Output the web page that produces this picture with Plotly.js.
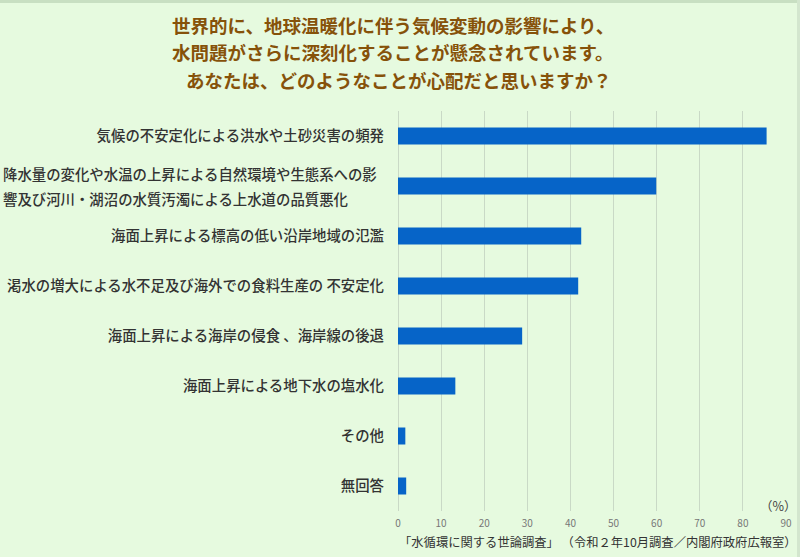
<!DOCTYPE html>
<html>
<head>
<meta charset="utf-8">
<script src="https://cdn.plot.ly/plotly-3.0.1.min.js"></script>
<style>
html,body{margin:0;padding:0;background:#E6FADF;}
#chart{width:800px;height:557px;}
</style>
</head>
<body>
<div id="chart"></div>
<script>
// ---- data ----
const categories = [
  "気候の不安定化による洪水や土砂災害の頻発",
  "降水量の変化や水温の上昇による自然環境や生態系への影響及び河川・湖沼の水質汚濁による上水道の品質悪化",
  "海面上昇による標高の低い沿岸地域の氾濫",
  "渇水の増大による水不足及び海外での食料生産の 不安定化",
  "海面上昇による海岸の侵食 、海岸線の後退",
  "海面上昇による地下水の塩水化",
  "その他",
  "無回答"
];
const values = [85.5, 59.9, 42.5, 41.8, 28.8, 13.3, 1.7, 1.9];
const tickLabels = [
  "気候の不安定化による洪水や土砂災害の頻発",
  "",
  "海面上昇による標高の低い沿岸地域の氾濫",
  "渇水の増大による水不足及び海外での食料生産の 不安定化",
  "海面上昇による海岸の侵食 、海岸線の後退",
  "海面上昇による地下水の塩水化",
  "その他",
  "無回答"
];
const wrappedLabel = ["降水量の変化や水温の上昇による自然環境や生態系への影", "響及び河川・湖沼の水質汚濁による上水道の品質悪化"];
const titleLines = [
  "世界的に、地球温暖化に伴う気候変動の影響により、",
  "水問題がさらに深刻化することが懸念されています。",
  "あなたは、どのようなことが心配だと思いますか？"
];
const xTicks = [0,10,20,30,40,50,60,70,80,90];
const unitLabel = "（%）";
const sourceNote = "「水循環に関する世論調査」 （令和２年10月調査／内閣府政府広報室）";

// ---- layout helpers ----
const L = 398, R = 14, T = 111, B = 46, W = 800, H = 557;
const pw = W - L - R, ph = H - T - B;
const px = x => (x - L) / pw;
const py = y => (H - B - y) / ph;

const jp = '"Noto Sans CJK JP", "Noto Sans", sans-serif';
const titleTop = [25, 52, 80];
const titleCx = [393, 393, 399];
const labelFont = {family: jp, size: 14.4, color: '#333333', weight: 500};

const annotations = [];
titleLines.forEach((t, i) => {
  annotations.push({
    text: t, xref: 'paper', yref: 'paper', x: px(titleCx[i]), y: py(titleTop[i]),
    xanchor: 'center', yanchor: 'middle', showarrow: false,
    font: {family: jp, size: 18.5, color: '#86520A', weight: 'bold'}
  });
});
wrappedLabel.forEach((t, i) => {
  annotations.push({
    text: t, xref: 'paper', yref: 'y', x: px(1), y: categories[1],
    xanchor: 'left', yanchor: 'middle', yshift: i === 0 ? 12.5 : -12.5,
    showarrow: false, font: labelFont
  });
});
annotations.push({
  text: unitLabel, xref: 'paper', yref: 'paper', x: px(799), y: py(505),
  xanchor: 'right', yanchor: 'middle', showarrow: false,
  font: {family: jp, size: 12.5, color: '#444444'}
});
annotations.push({
  text: sourceNote, xref: 'paper', yref: 'paper', x: px(799), y: py(542),
  xanchor: 'right', yanchor: 'middle', showarrow: false,
  font: {family: jp, size: 12.3, color: '#333333'}
});

const trace = {
  type: 'bar', orientation: 'h',
  x: values, y: categories,
  marker: {color: '#0664C8', line: {width: 0}},
  width: 0.34,
  hoverinfo: 'x+y'
};

const layout = {
  width: W, height: H,
  margin: {l: L, r: R, t: T, b: B, pad: 0},
  paper_bgcolor: '#E6FADF', plot_bgcolor: '#E6FADF',
  showlegend: false,
  xaxis: {
    range: [0, 90], tickvals: xTicks, ticktext: xTicks.map(String),
    showgrid: true, gridcolor: '#C9D9C6', gridwidth: 1,
    zeroline: true, zerolinecolor: '#C9D9C6', zerolinewidth: 1,
    showline: false, ticks: '', fixedrange: true,
    ticklabelstandoff: 5,
    tickfont: {family: jp, size: 10, color: '#777777'}
  },
  yaxis: {
    type: 'category', autorange: 'reversed',
    tickvals: categories, ticktext: tickLabels,
    showgrid: false, zeroline: false, showline: false, ticks: '',
    ticklabelstandoff: 13,
    tickfont: labelFont
  },
  annotations: annotations,
  shapes: [
    {type: 'rect', xref: 'paper', yref: 'paper', x0: px(0), x1: px(800), y0: py(3), y1: py(0),
     fillcolor: '#C8DFC2', line: {width: 0}, layer: 'below'},
    {type: 'rect', xref: 'paper', yref: 'paper', x0: px(797), x1: px(800), y0: py(557), y1: py(0),
     fillcolor: '#D3E6CE', line: {width: 0}, layer: 'below'}
  ]
};

Plotly.newPlot('chart', [trace], layout, {displayModeBar: false, staticPlot: true});
</script>
</body>
</html>
